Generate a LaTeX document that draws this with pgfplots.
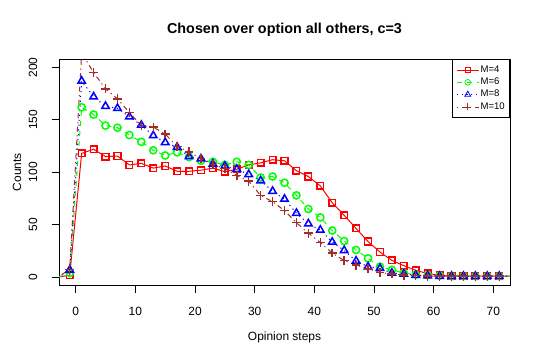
\documentclass[border=0pt]{standalone}
\usepackage{fontspec}
\setmainfont{Liberation Sans}
\usepackage{pgfplots}
\usepackage{pgfplotstable}
\pgfplotsset{compat=1.18}

\definecolor{rred}{RGB}{255,0,0}
\definecolor{rgreen}{RGB}{0,255,0}
\definecolor{rblue}{RGB}{0,0,255}
\definecolor{rbrown}{RGB}{165,42,42}

% counts per opinion step, one column per M
\pgfplotstableread{
x   m4    m6    m8    m10
-3  0     0     0     0
-1  2     4     7     7.5
1   118   162   187   214
3   122   155   172   195
5   115   144.5 163   179.5
7   115.5 142.5 161   170
9   107   135.5 153   157
11  108.5 129   145   144.5
13  104   121   135   143
15  106   116   128.5 136.5
17  101   119   124   124.5
19  101   114.5 115   119.5
21  102   111   113   113
23  104   110   108   107.5
25  100.5 107   106   103.5
27  103   110   103   97
29  107   107   98    91.5
31  109   95    92    78
33  112   96    82    72
35  111   90    74.5  63.5
37  101.5 78    61    52
39  96    65    51    42
41  87    57    45    33
43  71    44.5  33.5  23
45  59    34.5  25.5  16
47  46.5  26    15.5  11.5
49  34    18    10    8
51  24    10    8.5   4.5
53  16    7     4     3
55  11    4     3     2
57  6.5   2.5   2     1.5
59  3.5   2     1.5   1
61  2     1.5   1     1
63  1.5   1     1     1
65  1     1     1     1
67  1     1     1     1
69  1     1     1     1
71  1     1     1     1
73  1     1     1     1
}\counts

\begin{document}
\begin{tikzpicture}
\path[use as bounding box] (0,0) rectangle (540bp,359bp);
\begin{axis}[
  at={(59bp,73.4bp)}, anchor=south west,
  scale only axis, width=451bp, height=226.6bp,
  xmin=-2.8, xmax=72.8, ymin=-8, ymax=208,
  xtick={0,10,...,70}, ytick={0,50,...,200},
  xtick pos=bottom, ytick pos=left,
  tick align=outside, major tick length=7.2bp,
  tick style={black, line width=0.75bp},
  axis line style={black, line width=0.75bp},
  /pgf/number format/assume math mode=true,
  tick label style={font=\fontsize{12}{14}\selectfont},
  xticklabel style={anchor=north, yshift=-11bp},
  yticklabel style={xshift=-11bp, rotate=90, anchor=south},
  legend style={at={(1,1)}, anchor=north east, draw=black, line width=0.75bp,
    font=\fontsize{9.6}{11}\selectfont, inner xsep=3.5bp, inner ysep=4.5bp,
    row sep=0pt, cells={anchor=west},
    nodes={inner sep=1.4bp, text height=7bp, text depth=2.5bp}},
  legend image code/.code={
    \draw[mark repeat=2,mark phase=2] plot coordinates {(0bp,0bp) (11bp,0bp) (22bp,0bp)};},
  legend image post style={line width=0.8bp, mark options={solid, line width=0.8bp, scale=0.8}},
]
\addplot[rred, line width=1bp, mark=square, mark size=3.3bp,
  mark options={solid, line width=1.5bp}] table[x=x, y=m4] {\counts};
\addlegendentry{M=4}
\addplot[rgreen, line width=1bp, dash pattern=on 5bp off 5bp, mark=o, mark size=3.6bp,
  mark options={solid, line width=1.5bp}] table[x=x, y=m6] {\counts};
\addlegendentry{M=6}
\addplot[rblue, line width=1bp, dash pattern=on 1.2bp off 3.6bp, mark=triangle, mark size=4.3bp,
  mark options={solid, line width=1.5bp}] table[x=x, y=m8] {\counts};
\addlegendentry{M=8}
\addplot[rbrown, line width=1bp, dash pattern=on 1.2bp off 3.6bp on 5bp off 3.6bp, mark=+, mark size=4.4bp,
  mark options={solid, line width=1.5bp}] table[x=x, y=m10] {\counts};
\addlegendentry{M=10}
\end{axis}
\node[font=\fontsize{14.4}{16}\selectfont\bfseries] at (284.5bp,329bp) {Chosen over option all others, c=3};
\node[font=\fontsize{12}{14}\selectfont] at (284.5bp,22bp) {Opinion steps};
\node[font=\fontsize{12}{14}\selectfont, rotate=90] at (17bp,186.7bp) {Counts};
\end{tikzpicture}
\end{document}
